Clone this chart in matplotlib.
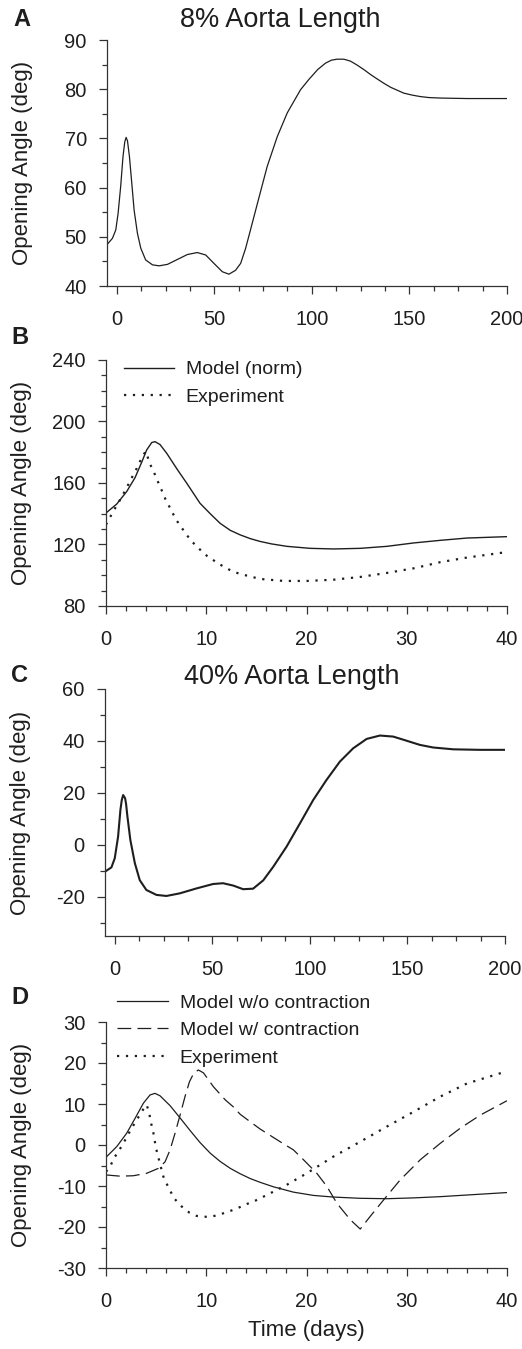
import matplotlib
matplotlib.use("Agg")
import matplotlib.pyplot as plt
from matplotlib.ticker import MultipleLocator

plt.rcParams['font.family'] = ['Liberation Sans', 'DejaVu Sans']
plt.rcParams['axes.unicode_minus'] = False

# opening angle at 8% of aorta length, long time course
t_8 = [-4.8, -2.2, -0.5, 0.7, 2.0, 3.2, 4.1, 4.8, 5.5, 6.5, 7.7, 8.9, 10.6, 12.3,
       14.8, 18.3, 21.7, 26.0, 31.1, 36.2, 41.3, 45.6, 49.8, 54.1, 57.5, 60.9,
       63.5, 66.0, 68.6, 72.9, 77.1, 82.3, 87.4, 94.2, 98.5, 103.0, 107.0, 110.0,
       113.0, 116.4, 119.8, 123.2, 126.6, 130.0, 133.4, 136.9, 140.3, 143.7,
       147.1, 151.4, 155.6, 160.0, 165.9, 179.5, 200.0]
oa_8 = [48.5, 49.7, 51.4, 54.8, 60.2, 66.3, 69.3, 70.2, 69.5, 66.3, 60.9, 55.4,
        50.7, 47.7, 45.3, 44.3, 44.1, 44.4, 45.4, 46.4, 46.8, 46.3, 44.6, 42.9,
        42.4, 43.2, 44.6, 47.6, 51.5, 58.0, 64.3, 70.4, 75.2, 79.9, 82.0, 84.0,
        85.3, 85.9, 86.1, 86.1, 85.7, 84.9, 84.0, 83.0, 82.1, 81.2, 80.4, 79.8,
        79.2, 78.8, 78.5, 78.3, 78.2, 78.1, 78.1]

# first 40 days, model vs experiment
t_b_model = [0.0, 1.07, 2.07, 2.9, 3.56, 4.06, 4.56, 4.89, 5.39, 6.06, 7.06, 8.06,
             9.38, 10.4, 11.38, 12.4, 13.37, 14.4, 15.37, 16.5, 18.04, 20.37,
             22.7, 25.36, 28.02, 30.68, 33.34, 36.0, 40.0]
oa_b_model = [140.5, 146.3, 154.5, 163.5, 173.5, 181.5, 186.3, 186.9, 185.0,
              179.3, 169.3, 159.8, 146.8, 140.0, 133.8, 129.2, 126.3, 123.8,
              122.0, 120.4, 118.8, 117.5, 117.1, 117.5, 118.8, 121.0, 122.7,
              124.2, 125.1]
t_b_exp = [0.0, 0.4, 0.8, 1.23, 1.63, 2.0, 2.4, 2.73, 3.13, 3.46, 3.83, 4.0, 4.32,
           4.72, 4.99, 5.29, 5.62, 5.92, 6.29, 6.66, 7.06, 7.55, 8.05, 8.65, 9.31,
           10.05, 10.78, 11.45, 12.21, 12.87, 13.6, 15.37, 17.7, 20.03, 22.7,
           25.36, 28.02, 30.68, 33.34, 36.0, 40.0]
oa_b_exp = [132.9, 137.7, 142.4, 147.2, 151.5, 156.5, 160.9, 165.6, 170.2, 175.0,
            179.3, 180.5, 173.2, 168.0, 163.7, 159.2, 154.3, 149.6, 145.0, 140.3,
            135.5, 130.9, 126.2, 121.4, 117.1, 112.7, 109.5, 106.7, 103.9, 101.9,
            100.5, 97.6, 96.3, 96.3, 97.1, 98.9, 101.5, 104.5, 108.5, 111.5, 115.1]

# opening angle at 40% of aorta length
t_40 = [-5.1, -1.7, 0.0, 1.7, 2.9, 3.6, 4.3, 5.3, 5.8, 6.5, 8.0, 10.3, 12.8, 16.2,
        21.4, 26.5, 33.3, 41.9, 50.4, 55.5, 60.7, 65.8, 70.9, 76.1, 81.2, 88.0,
        94.9, 101.7, 108.5, 115.4, 122.2, 129.1, 135.9, 142.7, 149.6, 156.4,
        163.2, 173.5, 187.2, 200.0]
oa_40 = [-10.3, -8.6, -5.1, 3.2, 13.5, 17.3, 19.2, 18.0, 15.8, 10.9, 1.9, -7.0,
         -13.5, -17.3, -19.2, -19.6, -18.6, -16.7, -15.0, -14.7, -15.6, -17.0,
         -16.8, -13.6, -8.4, -0.7, 8.3, 17.3, 25.0, 32.1, 37.2, 40.8, 42.1, 41.7,
         40.1, 38.5, 37.5, 36.8, 36.6, 36.6]

# 40% length, with and without contraction
t_d_nc = [0.0, 1.07, 2.07, 2.9, 3.73, 4.39, 4.89, 5.39, 6.39, 7.39, 8.4, 9.38,
          10.4, 11.38, 12.4, 13.37, 14.4, 15.37, 16.71, 18.7, 20.7, 22.7, 25.36,
          28.02, 30.68, 33.34, 36.0, 40.0]
oa_d_nc = [-3.0, -0.4, 2.9, 6.5, 10.2, 12.2, 12.6, 12.0, 9.6, 6.6, 3.5, 0.6, -2.0,
           -4.0, -5.7, -7.0, -8.2, -9.1, -10.2, -11.5, -12.3, -12.7, -13.0, -13.1,
           -12.9, -12.6, -12.2, -11.6]
t_d_c = [0.0, 1.4, 2.72, 4.06, 5.22, 5.89, 6.39, 6.89, 7.39, 7.88, 8.32, 8.75,
         9.21, 9.72, 10.72, 11.9, 12.7, 13.38, 14.7, 15.37, 17.37, 18.7, 19.7,
         21.03, 22.03, 23.03, 24.36, 25.36, 26.36, 27.69, 29.35, 31.35, 33.34,
         35.34, 37.34, 40.0]
oa_d_c = [-7.3, -7.6, -7.5, -6.9, -5.7, -4.1, -1.2, 2.9, 7.3, 11.8, 15.4, 17.5,
          18.3, 17.6, 14.2, 11.0, 9.3, 7.5, 5.1, 3.9, 0.8, -1.2, -3.6, -6.9,
          -10.1, -14.2, -18.2, -20.5, -17.4, -13.4, -8.5, -3.6, 0.4, 4.1, 7.3, 10.8]
t_d_exp = [0.0, 0.4, 0.8, 1.23, 1.63, 2.07, 2.46, 2.86, 3.26, 3.66, 4.06, 4.32,
           4.46, 4.73, 4.99, 5.39, 5.72, 6.16, 6.79, 7.55, 8.32, 9.05, 9.71, 10.38,
           11.21, 11.88, 12.61, 13.31, 14.04, 14.71, 16.04, 18.04, 20.03, 22.7,
           25.36, 28.02, 30.68, 33.34, 36.0, 40.0]
oa_d_exp = [-6.5, -5.3, -3.2, -1.6, 0.0, 1.9, 3.7, 5.3, 6.9, 8.5, 9.8, 7.7, 5.7,
            2.9, -0.8, -4.6, -7.7, -10.0, -13.0, -15.0, -16.5, -17.3, -17.5,
            -17.5, -17.1, -16.5, -15.9, -15.2, -14.4, -13.8, -12.2, -9.7, -6.9,
            -2.8, 0.8, 4.5, 8.1, 11.8, 15.0, 18.0]

W, H = 522, 1349
INK = '#1e1e1e'
DOT = (0, (1, 3))
DASH = (0, (11, 5))

fig = plt.figure(figsize=(W / 100, H / 100), dpi=100)


def px_axes(left, top, right, bottom):
    return fig.add_axes([left / W, 1 - bottom / H, (right - left) / W, (bottom - top) / H])


def style(ax, xmaj, xmin, ymaj, ymin):
    for s in ('top', 'right'):
        ax.spines[s].set_visible(False)
    for s in ('left', 'bottom'):
        ax.spines[s].set_color('#333333')
        ax.spines[s].set_linewidth(0.9)
    ax.xaxis.set_major_locator(MultipleLocator(xmaj))
    ax.xaxis.set_minor_locator(MultipleLocator(xmin))
    ax.yaxis.set_major_locator(MultipleLocator(ymaj))
    ax.yaxis.set_minor_locator(MultipleLocator(ymin))
    ax.tick_params(which='major', direction='out', length=5.5, width=0.9,
                   color='#333333', labelsize=14.5, labelcolor=INK)
    ax.tick_params(which='minor', direction='out', length=3.5, width=0.9, color='#333333')
    ax.tick_params(axis='x', which='major', pad=12)
    ax.tick_params(axis='y', which='major', pad=9)
    ax.set_ylabel('Opening Angle (deg)', fontsize=16, color=INK)
    ax.yaxis.set_label_coords(-0.185, 0.5)


def panel_letter(letter, x, y):
    fig.text(x / W, 1 - y / H, letter, fontsize=17, fontweight='bold',
             color=INK, ha='center', va='center')


# A
axA = px_axes(107, 40, 507, 286)
axA.plot(t_8, oa_8, color=INK, lw=0.9)
axA.set_xlim(-5, 200)
axA.set_ylim(40, 90)
style(axA, 50, 12.5, 10, 5)
fig.text(280 / W, 1 - 20 / H, '8% Aorta Length', fontsize=19.5, color=INK,
         ha='center', va='center')
panel_letter('A', 22, 20)

# B
axB = px_axes(106, 360, 507, 606)
axB.plot(t_b_model, oa_b_model, color=INK, lw=1.0, label='Model (norm)')
axB.plot(t_b_exp, oa_b_exp, color=INK, lw=1.6, linestyle=DOT, label='Experiment')
axB.set_xlim(0, 40)
axB.set_ylim(80, 240)
style(axB, 10, 2, 40, 10)
axB.legend(loc='upper left', bbox_to_anchor=(0.0, 1.068), frameon=False,
           fontsize=14, handlelength=2.6, handletextpad=0.6, labelspacing=0.5,
           labelcolor=INK)
panel_letter('B', 20, 337)

# C
axC = px_axes(105, 689, 505, 936)
axC.plot(t_40, oa_40, color=INK, lw=1.5)
axC.set_xlim(-5, 200)
axC.set_ylim(-35, 60)
style(axC, 50, 12.5, 20, 10)
fig.text(292 / W, 1 - 677 / H, '40% Aorta Length', fontsize=19.5, color=INK,
         ha='center', va='center')
panel_letter('C', 20, 675)

# D
axD = px_axes(106, 1022, 507, 1268)
axD.plot(t_d_nc, oa_d_nc, color=INK, lw=0.9, label='Model w/o contraction')
axD.plot(t_d_c, oa_d_c, color=INK, lw=0.9, linestyle=DASH, label='Model w/ contraction')
axD.plot(t_d_exp, oa_d_exp, color=INK, lw=1.6, linestyle=DOT, label='Experiment')
axD.set_xlim(0, 40)
axD.set_ylim(-30, 30)
style(axD, 10, 2, 10, 5)
axD.set_xlabel('Time (days)', fontsize=16, color=INK, labelpad=6)
axD.legend(loc='upper left', bbox_to_anchor=(-0.015, 1.184), frameon=False,
           fontsize=14, handlelength=2.6, handletextpad=0.6, labelspacing=0.5,
           labelcolor=INK)
panel_letter('D', 20, 998)

fig.savefig('out.png', dpi=100)
